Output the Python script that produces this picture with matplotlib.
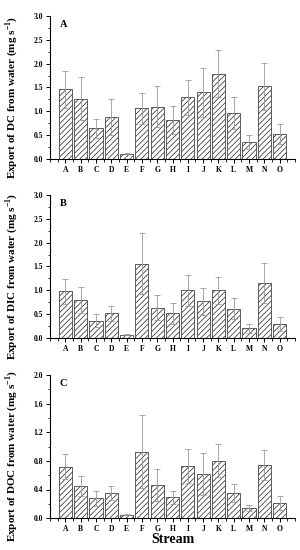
import matplotlib
matplotlib.use("Agg")
import matplotlib.pyplot as plt
import numpy as np
from matplotlib.ticker import MultipleLocator

streams = ["A","B","C","D","E","F","G","H","I","J","K","L","M","N","O"]
dc_vals = [1.46,1.26,0.64,0.88,0.11,1.06,1.10,0.82,1.29,1.40,1.79,0.96,0.35,1.52,0.52]
dc_err  = [0.39,0.45,0.20,0.37,0.01,0.33,0.44,0.30,0.36,0.51,0.50,0.33,0.15,0.50,0.21]
dic_vals = [0.98,0.80,0.37,0.52,0.07,1.56,0.64,0.52,1.00,0.77,1.00,0.62,0.21,1.15,0.30]
dic_err  = [0.26,0.28,0.13,0.16,0.01,0.64,0.26,0.22,0.32,0.28,0.28,0.22,0.09,0.42,0.14]
doc_vals = [0.72,0.45,0.275,0.355,0.05,0.93,0.46,0.29,0.73,0.62,0.80,0.35,0.145,0.74,0.21]
doc_err  = [0.18,0.14,0.105,0.10,0.01,0.51,0.22,0.09,0.24,0.29,0.23,0.12,0.045,0.21,0.10]

plt.rcParams['font.family'] = ['Liberation Serif', 'DejaVu Serif']
plt.rcParams['font.weight'] = 'bold'
plt.rcParams['mathtext.fontset'] = 'custom'
plt.rcParams['mathtext.rm'] = 'Liberation Serif:bold'
plt.rcParams['mathtext.bf'] = 'Liberation Serif:bold'
plt.rcParams['hatch.color'] = '#888888'
plt.rcParams['hatch.linewidth'] = 0.6

fig = plt.figure(figsize=(3.0, 5.5), dpi=100)
panels = [
    ("A", dc_vals, dc_err, "Export of DC from water (mg s$^{-1}$)", 3.0, 0.5, [0.167, 0.711, 0.816, 0.260]),
    ("B", dic_vals, dic_err, "Export of DIC from water (mg s$^{-1}$)", 3.0, 0.5, [0.167, 0.385, 0.816, 0.261]),
    ("C", doc_vals, doc_err, "Export of DOC from water (mg s$^{-1}$)", 2.0, 0.4, [0.167, 0.058, 0.816, 0.260]),
]
x = np.arange(len(streams))
for letter, vals, err, ylabel, ymax, step, rect in panels:
    ax = fig.add_axes(rect)
    ax.bar(x, vals, width=0.86, color='white', edgecolor='#444444', linewidth=0.6,
           hatch='//////', zorder=2)
    ax.errorbar(x, vals, yerr=err, fmt='none', ecolor='#999999', elinewidth=0.6,
                capsize=2.2, capthick=0.6, zorder=3)
    ax.set_xlim(-1, 15)
    ax.set_ylim(0, ymax)
    ax.set_xticks(x)
    ax.set_xticklabels(streams)
    ax.xaxis.set_minor_locator(MultipleLocator(0.5))
    ax.yaxis.set_major_locator(MultipleLocator(step))
    ax.yaxis.set_minor_locator(MultipleLocator(step / 2))
    ax.yaxis.set_major_formatter(matplotlib.ticker.FormatStrFormatter('%.1f'))
    for s in ['top', 'right']:
        ax.spines[s].set_visible(False)
    for s in ['left', 'bottom']:
        ax.spines[s].set_linewidth(0.8)
    ax.tick_params(axis='both', which='major', direction='out', length=3, width=0.7,
                   labelsize=5.5, pad=2)
    ax.tick_params(axis='both', which='minor', direction='out', length=1.8, width=0.6)
    for lab in ax.get_xticklabels() + ax.get_yticklabels():
        lab.set_fontweight('bold')
    ax.text(0.04, 0.94, letter, transform=ax.transAxes, fontsize=7.5,
            fontweight='bold', va='center', ha='left')
    ax.set_ylabel(ylabel, fontsize=8, fontweight='bold')
    ax.yaxis.set_label_coords(-0.125, 0.43)
    if letter == "C":
        ax.set_xlabel("Stream", fontsize=10, fontweight='bold', labelpad=0)

fig.savefig("out.png", dpi=100)
